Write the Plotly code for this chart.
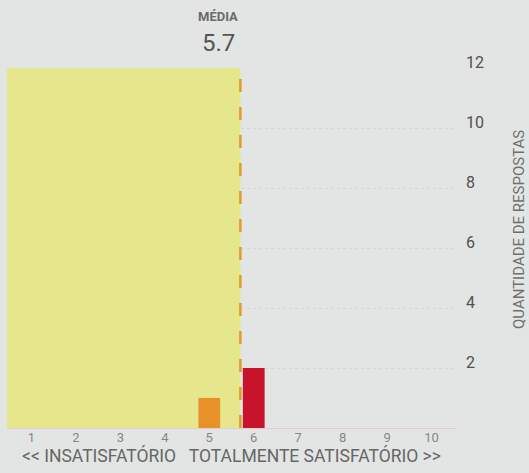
import plotly.graph_objects as go

scores = [1, 2, 3, 4, 5, 6, 7, 8, 9, 10]
counts = [0, 0, 0, 0, 1, 2, 0, 0, 0, 0]
bar_colors = ["#c8102e", "#c8102e", "#d2302a", "#dc5a28", "#e8902a",
              "#c8142a", "#c8142a", "#c8142a", "#c8142a", "#c8142a"]
mean_value = 5.7
y_ticks = [2, 4, 6, 8, 10, 12]

bg = "#e3e5e5"
fig = go.Figure()
fig.add_trace(go.Bar(x=scores, y=counts, marker_color=bar_colors,
                     marker_line_width=0, width=0.49, hoverinfo="skip"))

fig.add_shape(type="rect", xref="x", yref="y", x0=0.45, x1=mean_value, y0=0, y1=12,
              fillcolor="#e6e78c", line_width=0, layer="between")
fig.add_shape(type="line", xref="x", yref="y", x0=mean_value, x1=mean_value, y0=0, y1=11.7,
              line=dict(color="#e39a2a", width=2.5, dash="13px,15px"), layer="above")

fig.add_annotation(x=mean_value, y=1, xref="x", yref="paper", yshift=42,
                   text="<b>MÉDIA</b>", showarrow=False, xanchor="right", yanchor="bottom",
                   font=dict(size=13, color="#6a6a6a", family="Roboto"))
fig.add_annotation(x=mean_value, y=1, xref="x", yref="paper", xshift=-3, yshift=9,
                   text="5.7", showarrow=False, xanchor="right", yanchor="bottom",
                   font=dict(size=24, color="#555555", family="Roboto"))
fig.add_annotation(x=1, y=0.55, xref="paper", yref="paper", xshift=74,
                   text="QUANTIDADE DE RESPOSTAS", textangle=-90, showarrow=False,
                   font=dict(size=15, color="#6f6f6f", family="Roboto"))

fig.update_layout(
    width=529, height=473,
    margin=dict(l=7, r=73, t=68, b=45),
    paper_bgcolor=bg, plot_bgcolor=bg,
    showlegend=False,
    font=dict(family="Roboto", color="#666666"),
    bargap=0.5,
)
fig.update_xaxes(range=[0.45, 10.55], tickvals=scores, showgrid=False, zeroline=False,
                 tickfont=dict(size=13, color="#858585"), ticks="",
                 title=dict(text="<< INSATISFATÓRIO   TOTALMENTE SATISFATÓRIO >>",
                            font=dict(size=17.5, color="#666666"), standoff=0))
fig.update_yaxes(range=[0, 12], side="right", tickvals=y_ticks, showgrid=True,
                 gridcolor="#d5d7d7", griddash="dot", gridwidth=1,
                 zeroline=True, zerolinecolor="#e0cccc", zerolinewidth=1,
                 tickfont=dict(size=16, color="#505050"), ticks="",
                 ticklabelstandoff=9, ticklabelshift=-6)

fig.write_html("out.html", config={"displayModeBar": False},
               post_script="document.body.style.margin='0';document.body.style.background='#e3e5e5';")
